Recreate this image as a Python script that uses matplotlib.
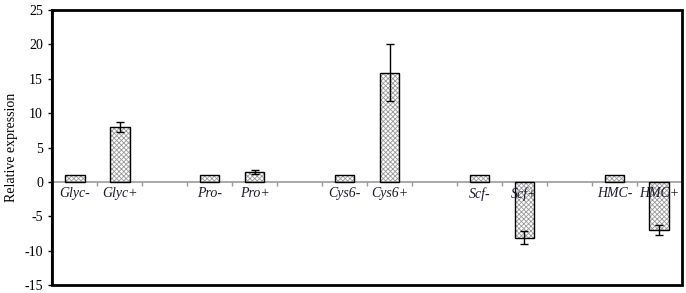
import numpy as np
import matplotlib.pyplot as plt
from matplotlib.patches import Rectangle

labels = ['Glyc-', 'Glyc+', '', 'Pro-', 'Pro+', '', 'Cys6-', 'Cys6+', '',
          'Scf-', 'Scf+', '', 'HMC-', 'HMC+']
values = [1, 8.0, None, 1, 1.45, None, 1, 15.9, None, 1, -8.1, None, 1, -7.0]
errors = [0, 0.7, None, 0, 0.3, None, 0, 4.1, None, 0, 0.9, None, 0, 0.7]

plt.rcParams['font.family'] = ['Liberation Serif', 'DejaVu Serif']
plt.rcParams['axes.unicode_minus'] = False
plt.rcParams['hatch.linewidth'] = 0.6

fig = plt.figure(figsize=(6.86, 2.93), dpi=100)
ax = fig.add_axes([0.076, 0.027, 0.918, 0.939])

idx = [i for i, v in enumerate(values) if v is not None]
x = np.array(idx)
v = np.array([values[i] for i in idx])
e = np.array([errors[i] for i in idx])

w = 0.44
# hatched fill then black outline
ax.bar(x, v, width=w, color='white', edgecolor='#9a9a9a', hatch='xxxxxxx', linewidth=0, zorder=2)
ax.bar(x, v, width=w, fill=False, edgecolor='black', linewidth=1.0, zorder=3)
m = e > 0
ax.errorbar(x[m], v[m], yerr=e[m], fmt='none', ecolor='black', elinewidth=1.0,
            capsize=3, capthick=1.0, zorder=4)

ax.set_xlim(-0.5, len(labels) - 0.5)
ax.set_ylim(-15, 25)
ax.set_yticks(np.arange(-15, 26, 5))
ax.tick_params(axis='y', labelsize=10, direction='out', length=3, width=1)
ax.set_ylabel('Relative expression', fontsize=10, labelpad=5)

# zero axis with boundary ticks
ax.spines['bottom'].set_position(('data', 0))
ax.spines['bottom'].set_color('#999999')
ax.spines['bottom'].set_linewidth(1.2)
ax.set_xticks(np.arange(0.5, len(labels) - 0.5, 1))
ax.set_xticklabels([])
ax.tick_params(axis='x', direction='out', length=3, color='#999999', width=1)
for i, lab in enumerate(labels):
    if lab:
        ax.text(i, -0.7, lab, ha='center', va='top', fontsize=10, style='italic', color='#1a1a2e')

ax.spines['top'].set_visible(False)
ax.spines['right'].set_visible(False)
ax.spines['left'].set_linewidth(1.5)
ax.add_patch(Rectangle((0, 0), 1, 1, transform=ax.transAxes, fill=False,
                       edgecolor='black', linewidth=2, zorder=5, clip_on=False))

fig.savefig('out.png', dpi=100)
